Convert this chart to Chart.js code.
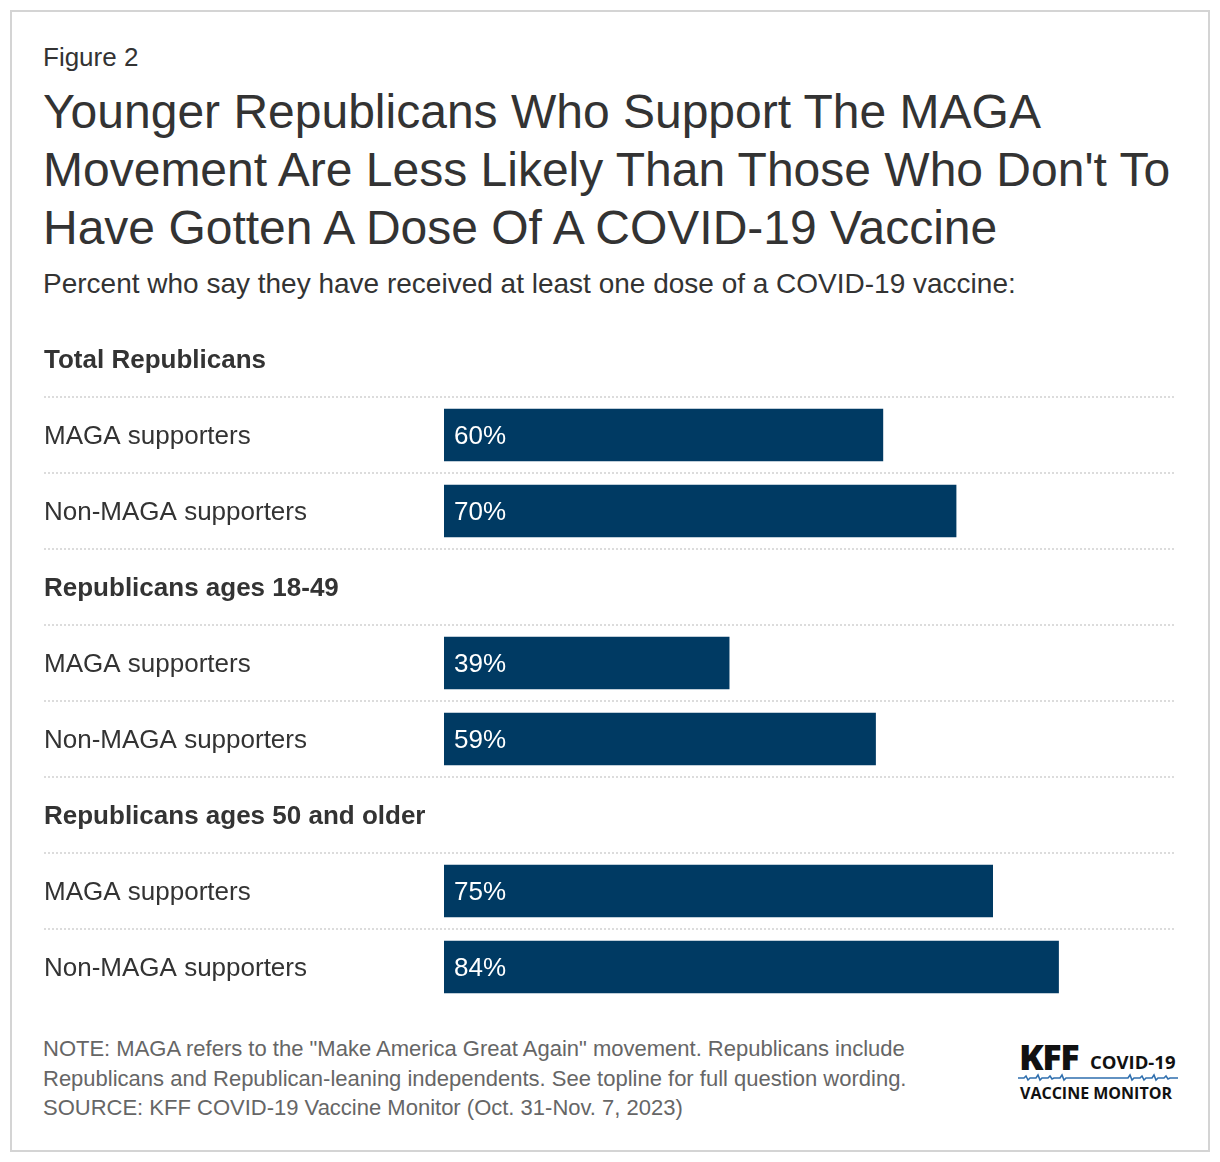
<!DOCTYPE html>
<html>
<head>
<meta charset="utf-8">
<script src="https://cdn.jsdelivr.net/npm/chart.js@4"></script>
<style>
  body { margin: 0; background: #fff; font-family: "Liberation Sans", Arial, sans-serif; color: #333; }
  #page { position: relative; width: 1220px; height: 1162px; }
  #frame { position: absolute; left: 10px; top: 10px; width: 1196px; height: 1138px; border: 2px solid #d4d4d4; }
  .txt { position: absolute; left: 43px; white-space: nowrap; }
  #fig { top: 42px; font-size: 26px; line-height: 30px; }
  #title { top: 83px; font-size: 48px; line-height: 58px; }
  #sub { top: 268px; font-size: 28px; line-height: 32px; }
  #notes { top: 1034px; font-size: 22px; line-height: 29.5px; color: #666; }
  #chart { position: absolute; left: 0; top: 321px; }
  #logo { position: absolute; left: 1018px; top: 1040px; width: 160px; height: 70px; font-family: "Open Sans", "Liberation Sans", sans-serif; color: #111; }
  #logo .kff { position: absolute; left: 1px; top: -8px; font-size: 36px; font-weight: 800; letter-spacing: -1.5px; }
  #logo .covid { position: absolute; left: 72px; top: 9px; font-size: 18.5px; font-weight: 700; }
  #logo .vm { position: absolute; left: 2px; top: 42px; font-size: 16px; font-weight: 700; }
  #logo svg { position: absolute; left: 0; top: 32px; }
</style>
</head>
<body>
<div id="page">
  <div id="frame"></div>
  <div class="txt" id="fig">Figure 2</div>
  <div class="txt" id="title">Younger Republicans Who Support The MAGA<br>Movement Are Less Likely Than Those Who Don't To<br>Have Gotten A Dose Of A COVID-19 Vaccine</div>
  <div class="txt" id="sub">Percent who say they have received at least one dose of a COVID-19 vaccine:</div>
  <canvas id="chart" width="1220" height="684"></canvas>
  <div class="txt" id="notes">NOTE: MAGA refers to the "Make America Great Again" movement. Republicans include<br>Republicans and Republican-leaning independents. See topline for full question wording.<br>SOURCE: KFF COVID-19 Vaccine Monitor (Oct. 31-Nov. 7, 2023)</div>
  <div id="logo">
    <span class="kff">KFF</span>
    <span class="covid">COVID-19</span>
    <svg width="160" height="10" viewBox="0 0 160 10">
      <polyline fill="none" stroke="#2f6fae" stroke-width="1.6"
        points="0,6 6,6 8,4 10,8 12,6 18,6 20,3 22,8 24,6 30,6 32,4 34,7 36,6 42,6 44,3 46,8 48,6 110,6 112,3 114,8 116,6 122,6 124,4 126,8 128,6 134,6 136,3 138,8 140,6 146,6 148,4 150,7 152,6 160,6"/>
    </svg>
    <span class="vm">VACCINE MONITOR</span>
  </div>
</div>
<script>
// data
const groups = ['Total Republicans', 'Republicans ages 18-49', 'Republicans ages 50 and older'];
const subgroups = ['MAGA supporters', 'Non-MAGA supporters'];
const maga = [60, 39, 75];
const nonMaga = [70, 59, 84];

// build rows: header row then one row per subgroup
const labels = [];
const values = [];
const isHeader = [];
groups.forEach((g, i) => {
    labels.push(g); values.push(null); isHeader.push(true);
    labels.push(subgroups[0]); values.push(maga[i]); isHeader.push(false);
    labels.push(subgroups[1]); values.push(nonMaga[i]); isHeader.push(false);
});

const FONT = '"Liberation Sans", Arial, sans-serif';

// dotted separators between rows, spanning the label column too
const separators = {
    id: 'separators',
    beforeDatasetsDraw(chart) {
        const y = chart.scales.y;
        const ctx = chart.ctx;
        ctx.save();
        ctx.strokeStyle = '#dcdcdc';
        ctx.lineWidth = 2;
        ctx.setLineDash([2, 2]);
        for (let i = 1; i < labels.length; i++) {
            const py = Math.round((y.getPixelForTick(i - 1) + y.getPixelForTick(i)) / 2);
            ctx.beginPath();
            ctx.moveTo(y.left, py);
            ctx.lineTo(chart.chartArea.right, py);
            ctx.stroke();
        }
        ctx.restore();
    }
};

// percent labels inside bars
const barLabels = {
    id: 'barLabels',
    afterDatasetsDraw(chart) {
        const ctx = chart.ctx;
        const meta = chart.getDatasetMeta(0);
        ctx.save();
        ctx.fillStyle = '#fff';
        ctx.font = '26px ' + FONT;
        ctx.textAlign = 'left';
        ctx.textBaseline = 'middle';
        meta.data.forEach((bar, i) => {
            if (values[i] == null) return;
            ctx.fillText(values[i] + '%', bar.base + 10, bar.y + 2);
        });
        ctx.restore();
    }
};

new Chart(document.getElementById('chart'), {
    type: 'bar',
    data: {
        labels: labels,
        datasets: [{
            data: values,
            backgroundColor: '#003a63',
            borderWidth: 0,
            barPercentage: 0.69,
            categoryPercentage: 1
        }]
    },
    options: {
        indexAxis: 'y',
        responsive: false,
        animation: false,
        devicePixelRatio: 1,
        layout: { padding: { left: 44, right: 44, top: 0, bottom: 0 } },
        plugins: { legend: { display: false }, tooltip: { enabled: false } },
        scales: {
            x: { display: false, min: 0, max: 100 },
            y: {
                grid: { display: false },
                border: { display: false },
                afterFit(scale) {
                    scale.width = 400;
                    scale.paddingTop = 0;
                    scale.paddingBottom = 0;
                },
                ticks: {
                    autoSkip: false,
                    crossAlign: 'far',
                    padding: 0,
                    labelOffset: 2,
                    color: '#333',
                    font: ctx => ({ family: FONT, size: 26, weight: isHeader[ctx.index] ? 'bold' : 'normal' })
                }
            }
        }
    },
    plugins: [separators, barLabels]
});
</script>
</body>
</html>
